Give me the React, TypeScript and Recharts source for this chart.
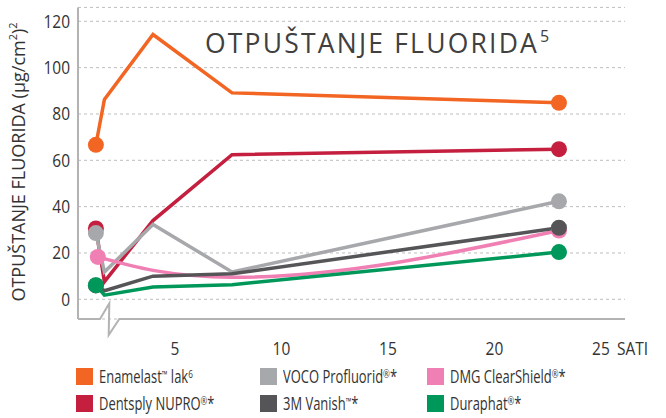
import React from "react";
import { LineChart, Line, XAxis, YAxis, CartesianGrid } from "recharts";

// ---- data ----
const times = [1.29, 1.69, 3.97, 7.68, 23.03];
const clearShieldTimes = [1.38, 3.97, 7.68, 23.03];
const enamelast = [66.7, 86.3, 114.3, 89.1, 84.8];
const dentsply = [30.6, 7.6, 34, 62.4, 64.8];
const voco = [28.6, 11.8, 32.3, 11.8, 42.3];
const clearShield = [18.3, 12.5, 9.5, 29.7];
const vanish = [6, 3.7, 10, 11, 30.9];
const duraphat = [6.1, 1.8, 5.3, 6.3, 20.4];

const xTicks = [5, 10, 15, 20, 25];
const yTicks = [0, 20, 40, 60, 80, 100, 120];

const title = "OTPUŠTANJE FLUORIDA";
const titleSup = "5";
const yLabel = "OTPUŠTANJE FLUORIDA (µg/cm";
const xUnit = "SATI";

type Series = { key: string; label: string; color: string; xs: number[]; ys: number[]; curve: "linear" | "monotone" };

const series: Series[] = [
  { key: "dentsply", label: "Dentsply NUPRO®*", color: "#C51F3F", xs: times, ys: dentsply, curve: "linear" },
  { key: "voco", label: "VOCO Profluorid®*", color: "#A7A8AB", xs: times, ys: voco, curve: "linear" },
  { key: "clearShield", label: "DMG ClearShield®*", color: "#F07FB3", xs: clearShieldTimes, ys: clearShield, curve: "monotone" },
  { key: "vanish", label: "3M Vanish™*", color: "#555558", xs: times, ys: vanish, curve: "linear" },
  { key: "duraphat", label: "Duraphat®*", color: "#00985A", xs: times, ys: duraphat, curve: "linear" },
  { key: "enamelast", label: "Enamelast™ lak⁶", color: "#F26522", xs: times, ys: enamelast, curve: "linear" },
];

const legendOrder = [
  ["enamelast", "voco", "clearShield"],
  ["dentsply", "vanish", "duraphat"],
];

const FONT = '"Open Sans", sans-serif';
const TXT = "#333333";
const NARROW = 0.86;

function renderLabel(text: string) {
  const parts: React.ReactNode[] = [];
  let buf = "";
  let k = 0;
  for (const ch of text) {
    if (ch === "®" || ch === "™" || ch === "⁶") {
      if (buf) parts.push(<span key={k++}>{buf}</span>);
      buf = "";
      const c = ch === "⁶" ? "6" : ch;
      parts.push(
        <span key={k++} style={{ fontSize: ch === "™" ? 10 : 11, verticalAlign: "top", position: "relative", top: -2 }}>
          {c}
        </span>
      );
    } else buf += ch;
  }
  if (buf) parts.push(<span key={k++}>{buf}</span>);
  return parts;
}

const makeDot = (color: string, n: number) => (props: any) => {
  const { cx, cy, index } = props;
  if (index === 0 || index === n - 1) {
    return <circle key={`dot-${index}`} cx={cx} cy={cy} r={8} fill={color} stroke="none" />;
  }
  return <g key={`dot-${index}`} />;
};

const XTick = (props: any) => {
  const { x, y, payload } = props;
  return (
    <text
      transform={`translate(${x},${y}) scale(${NARROW},1)`}
      textAnchor="middle"
      dy="0.71em"
      fontFamily={FONT}
      fontSize={18}
      fill={TXT}
    >
      {payload.value}
    </text>
  );
};

const YTick = (props: any) => {
  const { x, y, payload } = props;
  return (
    <text
      transform={`translate(${x},${y}) scale(${NARROW},1)`}
      textAnchor="end"
      dy="0.355em"
      fontFamily={FONT}
      fontSize={18}
      fill={TXT}
    >
      {payload.value}
    </text>
  );
};

export default function App() {
  const colX = [76, 260, 427];
  const rowY = [368, 395];
  const textX = [99, 283, 450];
  return (
    <div style={{ position: "absolute", left: 0, top: 0, width: 666, height: 418, background: "#fff" }}>
      <LineChart width={666} height={418} margin={{ top: 7.4, right: 41, bottom: 69, left: 0 }}>
        <CartesianGrid vertical={false} stroke="#BDBDBD" strokeDasharray="3 3" />
        <XAxis
          type="number"
          dataKey="t"
          domain={[0.45, 26.13]}
          ticks={xTicks}
          axisLine={false}
          tickLine={false}
          tickMargin={17}
          height={30}
          allowDataOverflow
          tick={<XTick />}
        />
        <YAxis
          type="number"
          domain={[-8.5, 126]}
          ticks={yTicks}
          width={78}
          allowDataOverflow
          axisLine={{ stroke: "#B3B3B3", strokeWidth: 2 }}
          tickLine={false}
          tick={<YTick />}
        />
        {series.map((s) => (
          <Line
            key={s.key}
            data={s.xs.map((t, i) => ({ t, v: s.ys[i] }))}
            dataKey="v"
            type={s.curve}
            stroke={s.color}
            strokeWidth={3.5}
            dot={makeDot(s.color, s.xs.length)}
            activeDot={false}
            isAnimationActive={false}
          />
        ))}
      </LineChart>
      <svg width={666} height={418} style={{ position: "absolute", left: 0, top: 0, pointerEvents: "none" }}>
        <polyline
          points="78,319 100,319 109.3,303.3 108.7,335 119.3,319 625,319"
          fill="none"
          stroke="#B3B3B3"
          strokeWidth={2}
        />
        <text x={205} y={53} fontFamily='"Open Sans", sans-serif' fontSize={26.5} letterSpacing={2.2} fill="#404040">
          {title}
          <tspan fontSize={16} dy={-11} dx={1}>{titleSup}</tspan>
        </text>
        <text
          transform="translate(25,162) rotate(-90)"
          textAnchor="middle"
          fontFamily={FONT}
          fontSize={18}
          fill={TXT}
        >
          {yLabel}
          <tspan fontSize={11} dy={-8}>2</tspan>
          <tspan fontSize={18} dy={8}>)</tspan>
          <tspan fontSize={11} dy={-8}>2</tspan>
        </text>
        <text
          transform={`translate(617,355) scale(${NARROW},1)`}
          fontFamily={FONT}
          fontSize={18}
          fill={TXT}
        >
          {xUnit}
        </text>
      </svg>
      {legendOrder.map((row, r) =>
        row.map((key, c) => {
          const s = series.find((q) => q.key === key)!;
          return (
            <React.Fragment key={key}>
              <div
                style={{ position: "absolute", left: colX[c], top: rowY[r], width: 17, height: 17, background: s.color }}
              />
              <div
                style={{
                  position: "absolute",
                  left: textX[c],
                  top: rowY[r] - 2,
                  height: 20,
                  lineHeight: "20px",
                  fontFamily: FONT,
                  fontSize: 17.5,
                  color: TXT,
                  whiteSpace: "nowrap",
                  transform: "scaleX(0.74)",
                  transformOrigin: "left center",
                }}
              >
                {renderLabel(s.label)}
              </div>
            </React.Fragment>
          );
        })
      )}
    </div>
  );
}
